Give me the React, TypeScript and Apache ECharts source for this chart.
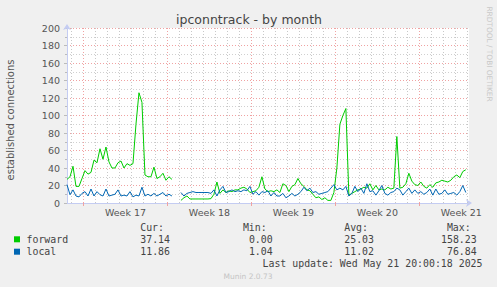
import React, { useEffect, useRef } from 'react';
import * as echarts from 'echarts';

const title = 'ipconntrack - by month';
const yAxisTitle = 'established connections';
const sideText = 'RRDTOOL / TOBI OETIKER';
const footer = 'Munin 2.0.73';
const lastUpdate = 'Last update: Wed May 21 20:00:18 2025';

// x in days relative to Monday 00:00 of week 17
const weekLabels = ['Week 17', 'Week 18', 'Week 19', 'Week 20', 'Week 21'];
const xMin = -1.375;
const xMax = 32.14;
const startDay = -1.375;
const stepDays = 0.25;

const forward: (number | null)[] = [
  27, 30, 42, 19, 19, 28, 37, 33, 35, 49,
  46, 62, 50, 64, 47, 40, 40, 46, 48, 40,
  45, 43, 45, 90, 126, 115, 32, 30, 30, 41,
  28, 30, 34, 26, 30, 27, null, null, 3, 6,
  8, 4.6, 4.6, 4.6, 4.6, 4.6, 4.6, 4.6, 5, 10,
  24, 11, 15, 12, 14, 13, 15, 15, 17, 18,
  16, 12, 13, 14, 18, 30, 16, 13, 14, 13,
  15, 12, 22, 20, 13, 19, 21, 28, 22, 19,
  15, 14, 10, 6, 7, 4, 6, 3, 3, 12,
  40, 90, 100, 108, 9, 11, 13, 15, 16, 18,
  17, 22, 15, 20, 15, 16, 15, 18, 16, 17,
  76, 17, 18, 22, 34, 25, 21, 20, 24, 19,
  17, 21, 18, 23, 24, 26, 25, 24, 26, 30,
  32, 29, 36, 38,
];

const local: (number | null)[] = [
  21, 9.5, 15, 8, 7, 11, 13, 8, 16, 8,
  13, 9.5, 8, 16, 8, 9, 10, 15, 8, 9,
  8, 13, 7, 9, 8, 18, 8, 10, 8, 11,
  8, 10, 12, 8, 10, 8, null, null, 12, 8,
  11, 12, 13, 12, 12, 12, 12, 12, 11, 15,
  8, 15, 19, 12, 13, 15, 13, 14, 13, 15,
  14, 19, 10, 13, 9, 13, 12, 14, 8, 12,
  8, 8, 11, 6, 8, 11, 8, 10, 13, 18,
  14, 17, 12, 13, 10, 11, 12, 13, 17, 21,
  15, 17, 15, 19, 8, 11, 19, 13, 17, 11,
  22, 13, 14, 9, 14, 20, 11, 9, 12, 13,
  17, 15, 9, 13, 17, 11, 15, 11, 13, 10,
  12, 16, 9, 16, 10, 11, 15, 10, 11, 12,
  9, 13, 20, 12,
];

const statHeaders = ['Cur:', 'Min:', 'Avg:', 'Max:'];
const forwardStats = ['37.14', '0.00', '25.03', '158.23'];
const localStats = ['11.86', '1.04', '11.02', '76.84'];
const seriesNames = ['forward', 'local'];
const seriesColors = ['#00cc00', '#0066b3'];

const SANS = '"DejaVu Sans", sans-serif';
const MONO = '"DejaVu Sans Mono", monospace';
const MAJOR = '#f0a2a2';
const MINOR = '#c8c8c8';
const AXIS = '#c4ccf2';

function toPairs(values: (number | null)[]) {
  return values.map((v, i) => [startDay + i * stepDays, v]);
}

function txt(text: string, x: number, y: number, opts: any = {}) {
  const align = opts.align || 'left';
  return {
    type: 'text',
    x,
    y,
    rotation: opts.rotation || 0,
    silent: true,
    style: {
      text,
      fill: opts.color || '#444',
      fontSize: opts.size || 10,
      fontFamily: opts.family || SANS,
      align,
      textAlign: align,
      verticalAlign: 'middle',
      textVerticalAlign: 'middle',
    },
  };
}

export default function App() {
  const ref = useRef<HTMLDivElement>(null);

  useEffect(() => {
    document.body.style.margin = '0';
    if (!ref.current) return;
    const chart = echarts.init(ref.current, undefined, { renderer: 'svg' });

    const dayLines: number[] = [];
    for (let d = Math.ceil(xMin); d <= Math.floor(xMax); d++) dayLines.push(d);
    const weekStarts = weekLabels.map((_, i) => i * 7);
    const weekMids = weekLabels.map((_, i) => i * 7 + 3.5);

    const statCols = [170, 272.7, 374, 476.7];
    const graphics: any[] = [
      txt(title, 249, 19, { align: 'center', size: 12.5, color: '#444' }),
      txt(yAxisTitle, 10, 120, { align: 'center', size: 10, color: '#555', rotation: Math.PI / 2 }),
      txt(sideText, 489, 54, { align: 'center', size: 7.4, color: '#c8c8c8', rotation: -Math.PI / 2 }),
      txt(footer, 248, 276, { align: 'center', size: 7.5, color: '#c4c4c4' }),
      txt(lastUpdate, 482.5, 263.3, { align: 'right', size: 9.9, family: MONO }),
    ];
    statHeaders.forEach((h, i) => {
      graphics.push(txt(h, statCols[i] - 6, 227.3, { align: 'right', size: 9.9, family: MONO }));
    });
    [forwardStats, localStats].forEach((row, r) => {
      const y = r === 0 ? 239.3 : 251.7;
      graphics.push({
        type: 'rect',
        silent: true,
        shape: { x: 14, y: y - 3, width: 6, height: 6 },
        style: { fill: seriesColors[r] },
      });
      graphics.push(txt(seriesNames[r], 26.5, y, { size: 9.9, family: MONO }));
      row.forEach((v, i) => {
        graphics.push(txt(v, statCols[i], y, { align: 'right', size: 9.9, family: MONO }));
      });
    });

    chart.setOption({
      animation: false,
      backgroundColor: '#f0f0f0',
      grid: {
        left: 67,
        top: 28,
        width: 402,
        height: 175,
        show: true,
        backgroundColor: '#ffffff',
        borderWidth: 0,
      },
      xAxis: {
        type: 'value',
        min: xMin,
        max: xMax,
        axisLine: {
          show: true,
          onZero: false,
          lineStyle: { color: AXIS, width: 1 },
          symbol: ['none', 'arrow'],
          symbolSize: [6, 6],
          symbolOffset: [0, 3],
        },
        axisTick: {
          show: true,
          customValues: weekStarts,
          length: 3,
          lineStyle: { color: MAJOR },
        },
        axisLabel: {
          customValues: weekMids,
          formatter: (v: number) => {
            const i = Math.round((v - 3.5) / 7);
            return Math.abs(v - (i * 7 + 3.5)) < 0.01 && weekLabels[i] ? weekLabels[i] : '';
          },
          fontSize: 9.5,
          fontFamily: SANS,
          color: '#555',
          margin: 4,
        },
        splitLine: { show: false },
      },
      yAxis: {
        type: 'value',
        min: 0,
        max: 200,
        interval: 20,
        axisLine: {
          show: true,
          onZero: false,
          lineStyle: { color: AXIS, width: 1 },
          symbol: ['none', 'arrow'],
          symbolSize: [6, 6],
          symbolOffset: [0, 4],
        },
        axisTick: { show: true, length: 3, lineStyle: { color: '#bbbbbb' } },
        minorTick: { show: true, splitNumber: 2, length: 2, lineStyle: { color: '#bbbbbb' } },
        axisLabel: { fontSize: 9.5, fontFamily: SANS, color: '#555', margin: 7 },
        splitLine: { show: true, lineStyle: { color: MAJOR, type: [1, 2], width: 1 } },
        minorSplitLine: { show: true, lineStyle: { color: '#d0d0d0', type: [1, 2], width: 1 } },
      },
      series: [
        {
          type: 'custom',
          name: 'vgrid',
          silent: true,
          z: 1,
          data: dayLines.map((d) => [d, 100, weekStarts.includes(d) ? 1 : 0]),
          encode: { x: 0, y: 1 },
          renderItem: (params: any, api: any) => {
            const bottom = api.coord([api.value(0), 0]);
            const top = api.coord([api.value(0), 200]);
            const x = Math.round(bottom[0]) + 0.5;
            return {
              type: 'line',
              shape: { x1: x, y1: bottom[1], x2: x, y2: top[1] },
              style: {
                stroke: api.value(2) === 1 ? MAJOR : MINOR,
                lineWidth: 1,
                lineDash: [1, 2],
              },
            };
          },
        },
        {
          type: 'line',
          name: seriesNames[0],
          data: toPairs(forward),
          symbol: 'none',
          showSymbol: false,
          connectNulls: false,
          lineStyle: { color: seriesColors[0], width: 1 },
          itemStyle: { color: seriesColors[0] },
          z: 3,
        },
        {
          type: 'line',
          name: seriesNames[1],
          data: toPairs(local),
          symbol: 'none',
          showSymbol: false,
          connectNulls: false,
          lineStyle: { color: seriesColors[1], width: 1 },
          itemStyle: { color: seriesColors[1] },
          z: 4,
        },
      ],
      graphic: graphics,
    });

    return () => chart.dispose();
  }, []);

  return <div ref={ref} style={{ width: 497, height: 287 }} />;
}
